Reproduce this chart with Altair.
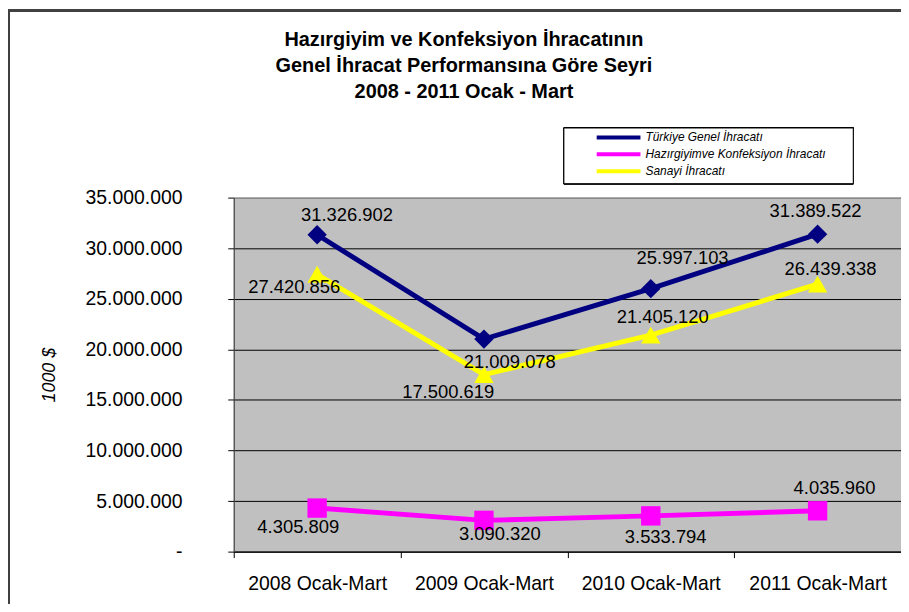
import altair as alt
import pandas as pd

periods = ["2008 Ocak-Mart", "2009 Ocak-Mart", "2010 Ocak-Mart", "2011 Ocak-Mart"]
series_names = ["Türkiye Genel İhracatı", "Hazırgiyimve Konfeksiyon İhracatı", "Sanayi İhracatı"]
turkiye = [31326902, 21009078, 25997103, 31389522]
hazir = [4305809, 3090320, 3533794, 4035960]
sanayi = [27420856, 17500619, 21405120, 26439338]
y_ticks = [0, 5000000, 10000000, 15000000, 20000000, 25000000, 30000000, 35000000]
title_lines = [
    "Hazırgiyim ve Konfeksiyon İhracatının",
    "Genel İhracat Performansına Göre Seyri",
    "2008 - 2011 Ocak - Mart",
]

colors = ["#000080", "#FF00FF", "#FFFF00"]
shapes = ["diamond", "square", "triangle-up"]

# label placement (layout, pixel offsets from each marker)
label_offsets = {
    series_names[0]: [(30, -20), (26, 23), (32, -31), (-2, -23)],
    series_names[1]: [(-19, 19), (16, 14), (15, 21), (17, -23)],
    series_names[2]: [(-23, 13), (-36, 18), (12, -18), (13, -15)],
}

PLOT_W, PLOT_H = 671, 356
Y_MAX = 35000000

rows = []
for name, vals in zip(series_names, [turkiye, hazir, sanayi]):
    for i, (p, v) in enumerate(zip(periods, vals)):
        dx, dy = label_offsets[name][i]
        rows.append({
            "series": name,
            "period": p,
            "value": v,
            "label": f"{v:,}".replace(",", "."),
            "dx": dx,
            "dy": dy,
        })
df = pd.DataFrame(rows)

FONT = "Liberation Sans"

x_scale = alt.Scale(type="band", domain=periods, paddingInner=0, paddingOuter=0)
x_axis = alt.Axis(
    title=None, labelAngle=0, tickBand="extent", tickSize=6, tickColor="black",
    domainColor="black", labelFontSize=19.5, labelFont=FONT, labelColor="black",
    labelPadding=17, grid=False,
)
x_enc = alt.X("period:N", sort=periods, scale=x_scale, axis=x_axis)
y_scale = alt.Scale(domain=[0, Y_MAX], nice=False, zero=True)
y_enc = alt.Y(
    "value:Q",
    scale=y_scale,
    axis=alt.Axis(
        values=y_ticks,
        labelExpr="datum.value == 0 ? '-' : replace(replace(format(datum.value, ','), ',', '.'), ',', '.')",
        labelFontSize=19.5, labelFont=FONT, labelColor="black", labelPadding=46,
        tickSize=6, tickColor="black", domainColor="#404040",
        grid=True,
        gridColor=alt.condition("datum.value == 35000000", alt.value("#808080"), alt.value("black")),
        gridWidth=1,
        title="1000 $", titleFont=FONT, titleFontSize=18, titleFontStyle="italic",
        titleFontWeight="normal", titleColor="black", titleX=-185, titleY=178,
        titleBaseline="middle", titleAngle=-90,
    ),
)
color_scale = alt.Scale(domain=series_names, range=colors)

base = alt.Chart(df)

frame = base.mark_rect(fill="transparent", stroke="#404040", strokeWidth=2).encode(
    x=alt.value(-226), x2=alt.value(690), y=alt.value(-188), y2=alt.value(430)
)
legend_box = base.mark_rect(fill="white", stroke="black", strokeWidth=1).encode(
    x=alt.value(332), x2=alt.value(623), y=alt.value(-70), y2=alt.value(-14)
)

lines = base.mark_line(strokeWidth=5).encode(
    x=x_enc,
    y=y_enc,
    color=alt.Color(
        "series:N", scale=color_scale, sort=series_names,
        legend=alt.Legend(
            title=None, orient="none", legendX=379.5, legendY=-68,
            symbolType="M-4,0L4,0", symbolStrokeWidth=4, symbolSize=121,
            labelFont=FONT, labelFontSize=12, labelFontStyle="italic", labelColor="black",
            labelOffset=19.5, rowPadding=0, padding=0, labelLimit=400,
        ),
    ),
)

point_layers = []
for name, col, shp in zip(series_names, colors, shapes):
    point_layers.append(
        base.transform_filter(alt.datum.series == name)
        .mark_point(filled=True, opacity=1, size=380, color=col, shape=shp)
        .encode(x=x_enc, y=y_enc)
    )

labels = (
    base.transform_calculate(
        label_y=f"datum.value - datum.dy * {Y_MAX} / {PLOT_H}",
        label_dx=f"datum.dx + {PLOT_W} / {2 * len(periods)}",
    )
    .mark_text(fontSize=18.5, font=FONT, color="black", baseline="middle", align="center")
    .encode(
        x=x_enc,
        y=alt.Y("label_y:Q", scale=y_scale),
        xOffset=alt.XOffset("label_dx:Q", scale=None),
        text="label:N",
    )
)

chart = alt.layer(frame, legend_box, lines, *point_layers, labels).properties(
    width=PLOT_W,
    height=PLOT_H,
    autosize=alt.AutoSizeParams(type="none"),
    padding={"left": 227, "top": 189, "right": 0, "bottom": 51},
    title=alt.TitleParams(
        text=title_lines, font=FONT, fontSize=20, fontWeight="bold", color="black",
        anchor="middle", dx=-104, offset=-93, lineHeight=26,
    ),
).configure_view(fill="#C0C0C0", stroke="#808080", strokeWidth=1)

chart.save("out.html", embed_options={"renderer": "svg", "actions": False})
